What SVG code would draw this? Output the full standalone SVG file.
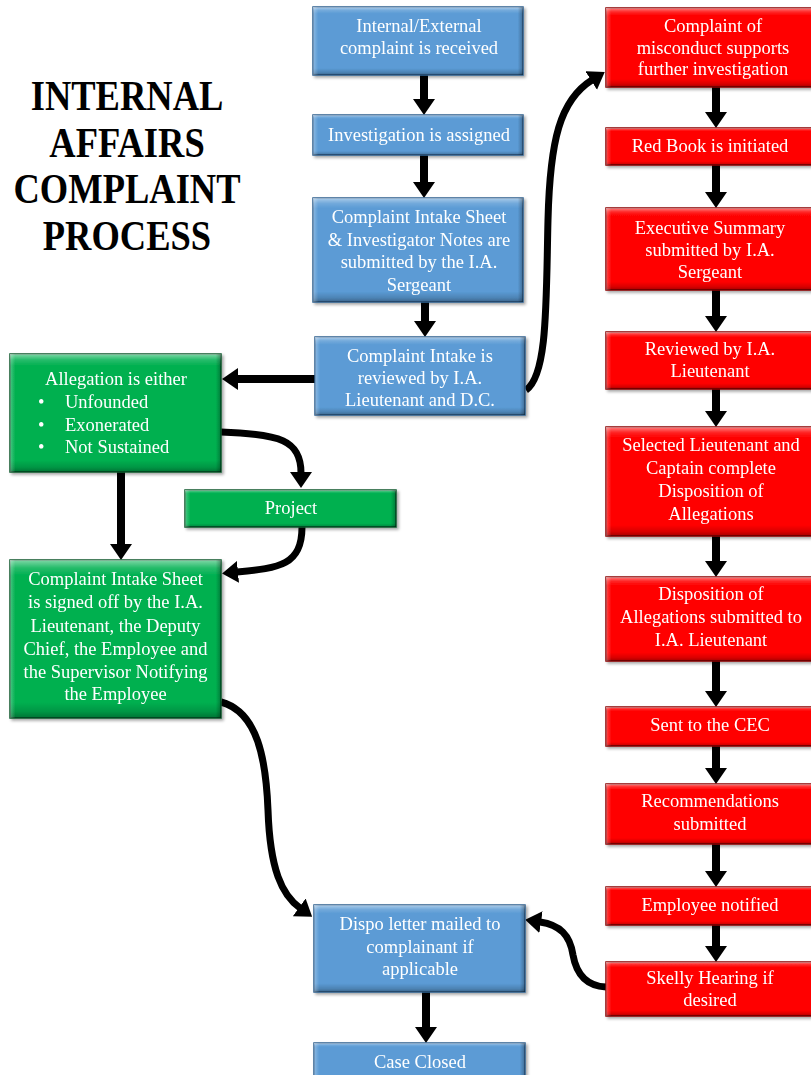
<svg xmlns="http://www.w3.org/2000/svg" width="811" height="1075" viewBox="0 0 811 1075">
<style>
.t{font-family:"Liberation Serif","Times New Roman",serif;font-size:18.5px;fill:#ffffff;text-anchor:middle}
.tl{font-family:"Liberation Serif","Times New Roman",serif;font-size:18.5px;fill:#ffffff}
.title{font-family:"Liberation Serif","Times New Roman",serif;font-size:36.5px;font-weight:bold;fill:#000000;text-anchor:middle}
.blue{fill:#5b9bd5;stroke:#2e5f8f;stroke-width:1.5}
.red{fill:#ff0000;stroke:#8a0000;stroke-width:1.5}
.green{fill:#00b050;stroke:#0a5a2c;stroke-width:1.5}
.bv{fill:url(#bevV)}
.bh{fill:url(#bevH)}
.c{fill:none;stroke:#000;stroke-width:7;marker-end:url(#ah)}
.s{fill:none;stroke:#000;stroke-width:8;marker-end:url(#ah)}
</style>
<defs>
<linearGradient id="bevV" x1="0" y1="0" x2="0" y2="1">
<stop offset="0" stop-color="#fff" stop-opacity="0.5"/>
<stop offset="0.05" stop-color="#fff" stop-opacity="0.15"/>
<stop offset="0.1" stop-color="#fff" stop-opacity="0"/>
<stop offset="0.9" stop-color="#000" stop-opacity="0"/>
<stop offset="0.96" stop-color="#000" stop-opacity="0.15"/>
<stop offset="1" stop-color="#000" stop-opacity="0.35"/>
</linearGradient>
<linearGradient id="bevH" x1="0" y1="0" x2="1" y2="0">
<stop offset="0" stop-color="#fff" stop-opacity="0.3"/>
<stop offset="0.025" stop-color="#fff" stop-opacity="0"/>
<stop offset="0.975" stop-color="#000" stop-opacity="0"/>
<stop offset="1" stop-color="#000" stop-opacity="0.3"/>
</linearGradient>
<filter id="sh" x="-5%" y="-5%" width="115%" height="125%">
<feDropShadow dx="2" dy="2" stdDeviation="1.5" flood-color="#000" flood-opacity="0.35"/>
</filter>
<marker id="ah" viewBox="0 0 16 22" refX="1" refY="11" markerWidth="16" markerHeight="22" markerUnits="userSpaceOnUse" orient="auto">
<path d="M0,0 L16,11 L0,22 z" fill="#000"/>
</marker>
</defs>

<g id="title">
<g transform="translate(127,0) scale(1,1.15)">
<text class="title" x="0" y="95.7">INTERNAL</text>
<text class="title" x="0" y="136.5">AFFAIRS</text>
<text class="title" x="0" y="176.5">COMPLAINT</text>
<text class="title" x="0" y="217.4">PROCESS</text>
</g>
</g>

<g id="connectors">
<path class="s" d="M424,75 V100"/>
<path class="s" d="M424,155 V183"/>
<path class="s" d="M425,302 V322"/>
<path class="s" d="M426,992 V1028"/>
<path class="s" d="M716,87 V113"/>
<path class="s" d="M716,165 V193"/>
<path class="s" d="M716,290 V317"/>
<path class="s" d="M716,389 V412"/>
<path class="s" d="M716,536 V562"/>
<path class="s" d="M716,661 V692"/>
<path class="s" d="M716,746 V769"/>
<path class="s" d="M716,844 V872"/>
<path class="s" d="M716,925 V947"/>
<path class="s" d="M121,472 V545"/>
<path class="s" d="M315,379 H237"/>
<path class="c" d="M526,390 C548,375 546,300 548,220 C550,140 560,100 592,80"/>
<path class="c" d="M221,432 C280,434 301,440 301,473"/>
<path class="c" d="M302,527 C302,565 280,568 237,572"/>
<path class="c" d="M221,702 C258,712 266,760 268,810 C270,870 282,895 300,908"/>
<path class="c" d="M606,987 C585,986 576,972 573,955 C570,935 560,925 540,922"/>
</g>

<g id="n-received" filter="url(#sh)">
<rect class="blue" x="313" y="7" width="210" height="68"/><rect class="bv" x="313" y="7" width="210" height="68"/><rect class="bh" x="313" y="7" width="210" height="68"/>
<text class="t" x="419" y="32">Internal/External</text>
<text class="t" x="419" y="54">complaint is received</text>
</g>
<g id="n-assigned" filter="url(#sh)">
<rect class="blue" x="313" y="115" width="210" height="40"/><rect class="bv" x="313" y="115" width="210" height="40"/><rect class="bh" x="313" y="115" width="210" height="40"/>
<text class="t" x="419" y="141">Investigation is assigned</text>
</g>
<g id="n-intake-sheet" filter="url(#sh)">
<rect class="blue" x="313" y="198" width="210" height="104"/><rect class="bv" x="313" y="198" width="210" height="104"/><rect class="bh" x="313" y="198" width="210" height="104"/>
<text class="t" x="419" y="223">Complaint Intake Sheet</text>
<text class="t" x="419" y="245.5">&amp; Investigator Notes are</text>
<text class="t" x="419" y="268">submitted by the I.A.</text>
<text class="t" x="419" y="290.5">Sergeant</text>
</g>
<g id="n-intake-reviewed" filter="url(#sh)">
<rect class="blue" x="315" y="337" width="210" height="78"/><rect class="bv" x="315" y="337" width="210" height="78"/><rect class="bh" x="315" y="337" width="210" height="78"/>
<text class="t" x="420" y="362">Complaint Intake is</text>
<text class="t" x="420" y="384">reviewed by I.A.</text>
<text class="t" x="420" y="406">Lieutenant and D.C.</text>
</g>
<g id="n-dispo" filter="url(#sh)">
<rect class="blue" x="314" y="905" width="211" height="87"/><rect class="bv" x="314" y="905" width="211" height="87"/><rect class="bh" x="314" y="905" width="211" height="87"/>
<text class="t" x="420" y="930">Dispo letter mailed to</text>
<text class="t" x="420" y="953">complainant if</text>
<text class="t" x="420" y="975">applicable</text>
</g>
<g id="n-closed" filter="url(#sh)">
<rect class="blue" x="314" y="1043" width="211" height="40"/><rect class="bv" x="314" y="1043" width="211" height="40"/><rect class="bh" x="314" y="1043" width="211" height="40"/>
<text class="t" x="420" y="1068">Case Closed</text>
</g>

<g id="n-allegation" filter="url(#sh)">
<rect class="green" x="10" y="354" width="211" height="118"/><rect class="bv" x="10" y="354" width="211" height="118"/><rect class="bh" x="10" y="354" width="211" height="118"/>
<text class="t" x="116" y="385">Allegation is either</text>
<text class="tl" x="38" y="408">•</text><text class="tl" x="65" y="408">Unfounded</text>
<text class="tl" x="38" y="430.5">•</text><text class="tl" x="65" y="430.5">Exonerated</text>
<text class="tl" x="38" y="453">•</text><text class="tl" x="65" y="453">Not Sustained</text>
</g>
<g id="n-project" filter="url(#sh)">
<rect class="green" x="185" y="490" width="211" height="37"/><rect class="bv" x="185" y="490" width="211" height="37"/><rect class="bh" x="185" y="490" width="211" height="37"/>
<text class="t" x="291" y="514">Project</text>
</g>
<g id="n-signed" filter="url(#sh)">
<rect class="green" x="10" y="560" width="211" height="158"/><rect class="bv" x="10" y="560" width="211" height="158"/><rect class="bh" x="10" y="560" width="211" height="158"/>
<text class="t" x="115.5" y="585">Complaint Intake Sheet</text>
<text class="t" x="115.5" y="608">is signed off by the I.A.</text>
<text class="t" x="115.5" y="631.5">Lieutenant, the Deputy</text>
<text class="t" x="115.5" y="655">Chief, the Employee and</text>
<text class="t" x="115.5" y="677.5">the Supervisor Notifying</text>
<text class="t" x="115.5" y="700">the Employee</text>
</g>

<g id="n-misconduct" filter="url(#sh)">
<rect class="red" x="606" y="8" width="212" height="79"/><rect class="bv" x="606" y="8" width="212" height="79"/><rect class="bh" x="606" y="8" width="212" height="79"/>
<text class="t" x="713" y="32">Complaint of</text>
<text class="t" x="713" y="53.5">misconduct supports</text>
<text class="t" x="713" y="75">further investigation</text>
</g>
<g id="n-redbook" filter="url(#sh)">
<rect class="red" x="606" y="128" width="212" height="37"/><rect class="bv" x="606" y="128" width="212" height="37"/><rect class="bh" x="606" y="128" width="212" height="37"/>
<text class="t" x="710" y="152">Red Book is initiated</text>
</g>
<g id="n-exec" filter="url(#sh)">
<rect class="red" x="606" y="208" width="212" height="82"/><rect class="bv" x="606" y="208" width="212" height="82"/><rect class="bh" x="606" y="208" width="212" height="82"/>
<text class="t" x="710" y="233.5">Executive Summary</text>
<text class="t" x="710" y="255.5">submitted by I.A.</text>
<text class="t" x="710" y="277.5">Sergeant</text>
</g>
<g id="n-reviewed" filter="url(#sh)">
<rect class="red" x="606" y="332" width="212" height="57"/><rect class="bv" x="606" y="332" width="212" height="57"/><rect class="bh" x="606" y="332" width="212" height="57"/>
<text class="t" x="710" y="355">Reviewed by I.A.</text>
<text class="t" x="710" y="377">Lieutenant</text>
</g>
<g id="n-selected" filter="url(#sh)">
<rect class="red" x="606" y="427" width="212" height="109"/><rect class="bv" x="606" y="427" width="212" height="109"/><rect class="bh" x="606" y="427" width="212" height="109"/>
<text class="t" x="711" y="451">Selected Lieutenant and</text>
<text class="t" x="711" y="474">Captain complete</text>
<text class="t" x="711" y="497">Disposition of</text>
<text class="t" x="711" y="519.5">Allegations</text>
</g>
<g id="n-disposition" filter="url(#sh)">
<rect class="red" x="606" y="577" width="212" height="84"/><rect class="bv" x="606" y="577" width="212" height="84"/><rect class="bh" x="606" y="577" width="212" height="84"/>
<text class="t" x="711" y="600">Disposition of</text>
<text class="t" x="711" y="623">Allegations submitted to</text>
<text class="t" x="711" y="646">I.A. Lieutenant</text>
</g>
<g id="n-cec" filter="url(#sh)">
<rect class="red" x="606" y="707" width="212" height="39"/><rect class="bv" x="606" y="707" width="212" height="39"/><rect class="bh" x="606" y="707" width="212" height="39"/>
<text class="t" x="710" y="731">Sent to the CEC</text>
</g>
<g id="n-recommend" filter="url(#sh)">
<rect class="red" x="606" y="784" width="212" height="60"/><rect class="bv" x="606" y="784" width="212" height="60"/><rect class="bh" x="606" y="784" width="212" height="60"/>
<text class="t" x="710" y="807">Recommendations</text>
<text class="t" x="710" y="830">submitted</text>
</g>
<g id="n-notified" filter="url(#sh)">
<rect class="red" x="606" y="887" width="212" height="38"/><rect class="bv" x="606" y="887" width="212" height="38"/><rect class="bh" x="606" y="887" width="212" height="38"/>
<text class="t" x="710" y="910.5">Employee notified</text>
</g>
<g id="n-skelly" filter="url(#sh)">
<rect class="red" x="606" y="962" width="212" height="54"/><rect class="bv" x="606" y="962" width="212" height="54"/><rect class="bh" x="606" y="962" width="212" height="54"/>
<text class="t" x="710" y="984">Skelly Hearing if</text>
<text class="t" x="710" y="1006">desired</text>
</g>
</svg>
